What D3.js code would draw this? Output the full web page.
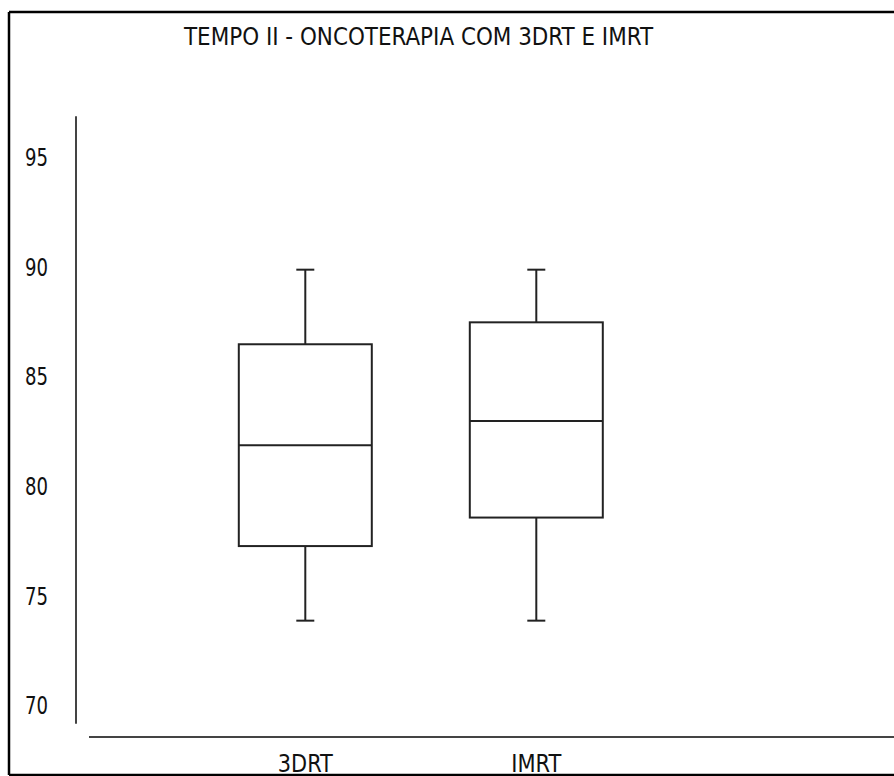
<!DOCTYPE html>
<html>
<head>
<meta charset="utf-8">
<script src="https://cdn.jsdelivr.net/npm/d3@7"></script>
<style>
  html, body { margin: 0; padding: 0; background: #fff; }
  svg { display: block; }
  text { font-family: "Liberation Sans Narrow", "Arial Narrow", "DejaVu Sans Condensed", sans-serif; fill: #111; }
</style>
</head>
<body>
<svg id="chart" width="894" height="776"></svg>
<script>
const title = "TEMPO II - ONCOTERAPIA COM 3DRT E IMRT";
const categories = ["3DRT", "IMRT"];
const whiskerLow  = [74, 74];
const q1          = [77.4, 78.7];
const median      = [82.0, 83.1];
const q3          = [86.6, 87.6];
const whiskerHigh = [90, 90];
const yTicks = [70, 75, 80, 85, 90, 95];

const svg = d3.select("#chart");
const W = 894, H = 776;

// white background
svg.append("rect").attr("x", 0).attr("y", 0).attr("width", W).attr("height", H).attr("fill", "#fff");

// frame (right side is beyond the visible area)
svg.append("path")
  .attr("d", "M 9 12 H 900 M 9 12 V 775 M 9 775 H 900")
  .attr("stroke", "#000").attr("stroke-width", 2.5).attr("fill", "none");

const y = d3.scaleLinear().domain([70, 95]).range([708.4, 160.0]);
const x = d3.scalePoint().domain(categories).range([305.3, 536.3]);
const boxW = 133, capW = 18;

// title
svg.append("text")
  .attr("x", 184).attr("y", 45)
  .attr("font-size", 25)
  .attr("textLength", 469).attr("lengthAdjust", "spacingAndGlyphs")
  .text(title);

// y axis line
svg.append("line")
  .attr("x1", 76).attr("x2", 76)
  .attr("y1", y(97.0)).attr("y2", y(69.3))
  .attr("stroke", "#444").attr("stroke-width", 2);

// x axis line
svg.append("line")
  .attr("x1", 89).attr("x2", 894)
  .attr("y1", 737).attr("y2", 737)
  .attr("stroke", "#444").attr("stroke-width", 2);

// y tick labels
svg.append("g").selectAll("text").data(yTicks).join("text")
  .attr("x", 25).attr("y", d => y(d) + 6)
  .attr("font-size", 25)
  .attr("textLength", 23).attr("lengthAdjust", "spacingAndGlyphs")
  .text(d => d);

// x labels
svg.append("g").selectAll("text").data(categories).join("text")
  .attr("x", d => x(d)).attr("y", 772)
  .attr("text-anchor", "middle")
  .attr("font-size", 25)
  .attr("textLength", d => d === "3DRT" ? 55 : 50).attr("lengthAdjust", "spacingAndGlyphs")
  .text(d => d);

// boxes
const g = svg.append("g").attr("stroke", "#222").attr("stroke-width", 2).attr("fill", "none");
categories.forEach((c, i) => {
  const cx = x(c);
  // whiskers
  g.append("line").attr("x1", cx).attr("x2", cx).attr("y1", y(whiskerHigh[i])).attr("y2", y(q3[i]));
  g.append("line").attr("x1", cx).attr("x2", cx).attr("y1", y(q1[i])).attr("y2", y(whiskerLow[i]));
  g.append("line").attr("x1", cx - capW / 2).attr("x2", cx + capW / 2).attr("y1", y(whiskerHigh[i])).attr("y2", y(whiskerHigh[i]));
  g.append("line").attr("x1", cx - capW / 2).attr("x2", cx + capW / 2).attr("y1", y(whiskerLow[i])).attr("y2", y(whiskerLow[i]));
  // box
  g.append("rect")
    .attr("x", cx - boxW / 2).attr("width", boxW)
    .attr("y", y(q3[i])).attr("height", y(q1[i]) - y(q3[i]))
    .attr("fill", "#fff");
  // median
  g.append("line").attr("x1", cx - boxW / 2).attr("x2", cx + boxW / 2).attr("y1", y(median[i])).attr("y2", y(median[i]));
});
</script>
</body>
</html>
